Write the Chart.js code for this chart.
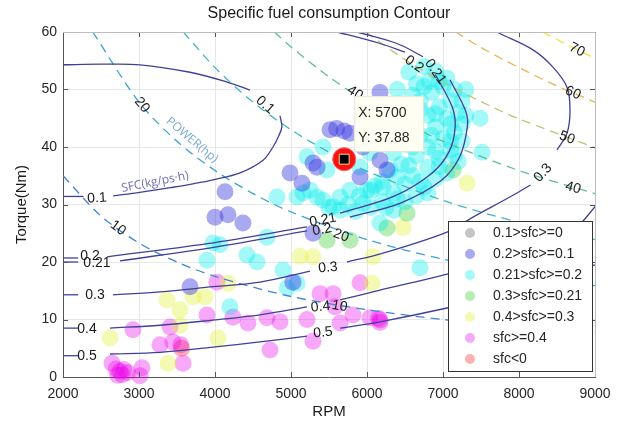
<!DOCTYPE html>
<html>
<head>
<meta charset="utf-8">
<script src="https://cdn.jsdelivr.net/npm/chart.js@4.4.1/dist/chart.umd.min.js"></script>
<style>
  html, body { margin: 0; padding: 0; background: #fff; }
  #wrap { width: 624px; height: 432px; }
</style>
</head>
<body>
<div id="wrap"><canvas id="chart" width="624" height="432"></canvas></div>
<script>
// ---- axis ranges / ticks ----
const rpmRange = [2000, 9000];
const torqueRange = [0, 60];

// ---- scatter groups (rpm, torque) ----
const legendNames = ['0.1>sfc>=0', '0.2>sfc>=0.1', '0.21>sfc>=0.2', '0.3>sfc>=0.21', '0.4>sfc>=0.3', 'sfc>=0.4', 'sfc<0'];

const grayPts = [];
const bluePts = [
  [3671, 15.7], [4000, 27.8], [4132, 32.2], [4171, 28.2], [4368, 26.8], [4987, 35.5], [5145, 33.7],
  [5342, 36.5], [5290, 37.2], [5026, 16.5], [5290, 25.0], [5513, 43.0], [5600, 43.2], [5700, 42.8],
  [5776, 42.4], [5947, 40.0], [5908, 34.8], [6171, 49.5], [6171, 37.7], [6263, 36.0]
];
const cyanPts = [
  [3895, 20.3], [3974, 23.3], [4066, 23.0], [4421, 21.2], [4553, 20.0], [4684, 24.3], [4895, 18.6],
  [5079, 16.3], [4950, 15.5], [4197, 12.2], [4816, 31.3], [5079, 31.3], [5158, 32.0], [5342, 31.3],
  [5421, 30.8], [5553, 29.6], [5645, 31.3], [5776, 32.5], [6000, 32.5], [6211, 33.0], [6171, 26.8],
  [6697, 19.0], [7487, 45.0], [7513, 39.1], [5210, 38.3], [5421, 40.0], [5474, 36.0], [5908, 36.5],
  [6039, 39.0], [5250, 32.5],
  // dense band along the 0.2 / 0.21 arc
  [6750, 54], [6900, 53.2], [7050, 52], [6820, 51.5], [7000, 50.5], [7150, 50], [6650, 51],
  [6850, 49.5], [7100, 48], [7250, 48], [6700, 48], [6950, 47], [7200, 46], [6550, 47],
  [6800, 45.5], [7050, 45], [7250, 44], [6600, 44], [6900, 43.5], [7150, 42.5], [6450, 43],
  [6700, 42], [7000, 41.5], [7250, 41], [6500, 40.5], [6800, 40], [7100, 39.5], [6350, 39],
  [6650, 38.5], [6950, 38], [7200, 37.5], [6450, 37], [6800, 36.5], [7050, 35.5], [6300, 36],
  [6600, 35], [6900, 34.5], [6200, 34], [6500, 33.5], [6750, 33], [6050, 32.5], [6350, 32],
  [6650, 31.5], [5900, 31.5], [6200, 30.5], [6500, 30.5], [5750, 30], [6050, 29.5], [5500, 29.5],
  [5850, 28.8], [6350, 29], [6400, 47.5], [6400, 50], [6550, 53], [7300, 45.5], [7300, 50],
  [6600, 49], [6750, 50.5], [6950, 51.5], [6700, 46.5], [6900, 45.8], [7100, 44], [6550, 42],
  [6850, 42], [7100, 41], [6600, 40], [6900, 39.2], [7150, 38.6], [6550, 36.8], [6950, 36.6],
  [6400, 34.8], [6700, 34], [6100, 33.2], [6400, 31], [6800, 32], [5650, 29], [5950, 30.2], [6250, 29.5]
];
const greenPts = [
  [6526, 28.5], [6263, 25.9], [5474, 23.8], [5776, 23.8], [7132, 36.0]
];
const yellowPts = [
  [2618, 6.8], [3368, 13.4], [3539, 11.7], [3539, 9.0], [3711, 13.9], [3868, 13.9], [4039, 6.8],
  [3382, 2.4], [4171, 16.3], [5118, 21.0], [5290, 20.9], [6079, 20.9], [6066, 16.3], [6474, 26.0],
  [7316, 33.7]
];
const magentaPts = [
  [2921, 8.2], [2645, 2.4], [2700, 1.4], [2750, 1.0], [2800, 1.3], [2780, 0.4], [2720, 0.3],
  [2850, 0.8], [3039, 1.6], [3013, 0.2], [3408, 8.7], [3276, 5.6], [3447, 6.1], [3579, 2.4],
  [3550, 5.6], [3895, 10.8], [4026, 16.5], [4237, 10.4], [4434, 9.4], [4684, 10.3], [4855, 9.6],
  [4724, 4.7], [5210, 10.0], [5290, 6.2], [5382, 14.5], [5553, 14.5], [5579, 12.2], [5645, 9.4],
  [5816, 10.8], [5908, 16.4], [6039, 10.3], [6171, 9.9], [6150, 10.2], [6171, 9.5]
];
const redPts = [[3560, 5.0]];

// ---- SFC contour lines (kg/ps.h), split where the labels sit ----
const sfc01 = [
  [[2000, 54.3], [2500, 54.4], [3013, 54.3], [3671, 53.0], [4158, 51.3], [4460, 49.9]],
  [[4855, 45.4], [4880, 43.5], [4830, 41.7], [4763, 40.0], [4632, 37.7], [4329, 35.5], [3974, 34.3],
   [3710, 33.6], [3447, 33.0], [3013, 32.1], [2660, 31.5]],
  [[2000, 31.4], [2270, 31.4]]
];
const sfc02 = [
  [[5300, 61], [5605, 60], [6171, 58], [6500, 56.5]],
  [[6900, 52.6], [7120, 47], [7160, 43.5], [7080, 39.2], [6850, 35.4], [6350, 31.4], [5645, 28.5]],
  [[5210, 26.1], [3900, 23.2], [2580, 20.9]],
  [[2000, 20.7], [2200, 20.7]]
];
const sfc021 = [
  [[5600, 61], [5868, 60], [6395, 58], [6737, 55.7]],
  [[7092, 51.7], [7300, 46.2], [7320, 43.5], [7220, 38.3], [6980, 34.2], [6450, 30.3], [5776, 27.8]],
  [[5210, 25.4], [4000, 22.6], [2750, 20.2]],
  [[2000, 20.0], [2200, 20.0]]
];
const sfc03 = [
  [[7600, 61], [7710, 60], [8184, 56.9], [8447, 53.9], [8632, 50.4], [8671, 46.4], [8632, 42.4], [8500, 39.5]],
  [[8150, 33.4], [7921, 31.6], [7395, 27.8], [7053, 25.2], [6200, 21.5], [5737, 20.0]],
  [[5250, 18.4], [4592, 16.5], [3974, 15.7], [3276, 14.8], [2658, 14.3]],
  [[2000, 14.3], [2200, 14.3]]
];
const sfc04 = [
  [[9100, 31.5], [9000, 29.6], [8710, 25.6], [8000, 21.5], [7053, 17.9], [6171, 15.1], [5645, 13.4]],
  [[5210, 12.2], [4592, 10.8], [3974, 9.9], [3276, 9.0], [2618, 8.5]],
  [[2000, 8.5], [2200, 8.5]]
];
const sfc05 = [
  [[9000, 19.5], [8000, 15.0], [7053, 12.0], [6171, 9.6], [5645, 8.5]],
  [[5210, 7.1], [4592, 6.1], [3974, 5.2], [3276, 4.3], [2618, 4.0]],
  [[2000, 3.7], [2200, 3.7]]
];
const sfcLines = [sfc01, sfc02, sfc021, sfc03, sfc04, sfc05];

// ---- power contour lines (hp) ----
const powerLevels = [10, 20, 30, 40, 50, 60, 70];
const power10 = [[2000, 35], [2500, 28], [3000, 23.3], [3500, 20], [4000, 17.5], [5000, 14], [6000, 11.7], [7000, 10], [8000, 8.75], [9000, 7.8]];
const power20 = [[2392, 60], [3000, 47.8], [3500, 41], [4000, 35.9], [4500, 31.9], [5000, 28.7], [6000, 23.9], [7000, 20.5], [8000, 17.9], [9000, 15.9]];
const power30 = [[3583, 60], [4000, 53.8], [4500, 47.8], [5000, 43], [5500, 39.1], [6000, 35.8], [7000, 30.7], [8000, 26.9], [9000, 23.9]];
const power40 = [[4783, 60], [5000, 57.4], [5500, 52.2], [6000, 47.8], [6500, 44.2], [7000, 41], [8000, 35.9], [9000, 31.9]];
const power50 = [[5983, 60], [6500, 55.2], [7000, 51.3], [7500, 47.9], [8000, 44.9], [9000, 39.9]];
const power60 = [[7167, 60], [7500, 57.3], [8000, 53.8], [8500, 50.6], [9000, 47.8]];
const power70 = [[8310, 60], [8600, 58], [9000, 55.4]];
const powerLines = [power10, power20, power30, power40, power50, power60, power70];

// ---- contour labels: [rpm, torque, text] and their angles ----
const sfcLabels = [
  [4660, 47.3, '0.1'], [2447, 31.1, '0.1'],
  [2355, 21.1, '0.2'], [2447, 19.8, '0.21'],
  [5420, 27.3, '0.21'], [5410, 25.6, '0.2'],
  [6620, 54.4, '0.2'], [6900, 53.1, '0.21'],
  [2421, 14.3, '0.3'], [5487, 19.0, '0.3'], [8316, 35.5, '0.3'],
  [2316, 8.3, '0.4'], [5390, 12.2, '0.4'],
  [2316, 3.7, '0.5'], [5421, 7.7, '0.5']
];
const sfcLabelAngles = [41, -4, 0, 0, -10, -10, 35, 55, 0, -6, -48, 0, -6, 0, -6];
const powerLabels = [
  [2724, 25.9, '10'], [5640, 12.3, '10'],
  [3039, 47.3, '20'], [5660, 24.6, '20'],
  [5842, 49.4, '40'],
  [8763, 56.9, '70'], [8710, 49.4, '60'], [8632, 41.6, '50'], [8710, 32.9, '40']
];
const powerLabelAngles = [36, 10, 50, 20, 33, 27, 23, 20, 16];

// data tip
const tipX = [5700];
const tipY = [37.88];

// ---- styles ----
const groupColors = [
  'rgba(90,90,90,0.35)', 'rgba(50,50,225,0.42)', 'rgba(0,235,235,0.36)', 'rgba(70,210,70,0.4)',
  'rgba(225,240,40,0.36)', 'rgba(235,0,235,0.34)', 'rgba(255,50,50,0.38)'
];
const powerColors = ['#3f86d6', '#3ca2d2', '#3fb8c0', '#5fbca0', '#c0c070', '#eab552', '#f2e23a'];
const sfcColor = '#40409a';
const FONT = '"Liberation Sans", Arial, sans-serif';

const toPts = arr => arr.map(p => ({ x: p[0], y: p[1] }));

const datasets = [];
[grayPts, bluePts, cyanPts, greenPts, yellowPts, magentaPts, redPts].forEach((pts, i) => {
  datasets.push({
    label: legendNames[i],
    data: toPts(pts),
    backgroundColor: groupColors[i],
    borderWidth: 0,
    pointRadius: 8.5,
    pointHoverRadius: 8.5,
    clip: false,
    order: 5
  });
});
powerLines.forEach((pts, i) => {
  datasets.push({
    data: toPts(pts), showLine: true, pointRadius: 0,
    borderColor: powerColors[i], borderWidth: 1.3, borderDash: [9, 6],
    tension: 0.3, order: 3
  });
});
sfcLines.forEach(segs => segs.forEach(pts => {
  datasets.push({
    data: toPts(pts), showLine: true, pointRadius: 0,
    borderColor: sfcColor, borderWidth: 1.3, tension: 0.35, order: 2
  });
}));
// data tip marker
datasets.push({
  data: toPts(tipX.map((v, i) => [v, tipY[i]])),
  pointStyle: 'rect', pointRadius: 7, backgroundColor: '#000', borderColor: '#ffd27f', borderWidth: 1, order: 0
});
datasets.push({
  data: toPts(tipX.map((v, i) => [v, tipY[i]])),
  pointRadius: 11.5, backgroundColor: '#f41414', borderColor: '#ff6060', borderWidth: 1, order: 1
});

function rotText(ctx, text, x, y, angle) {
  ctx.save();
  ctx.translate(x, y);
  ctx.rotate(angle * Math.PI / 180);
  ctx.fillText(text, 0, 0);
  ctx.restore();
}

const overlay = {
  id: 'overlay',
  afterDatasetsDraw(chart) {
    const { ctx, chartArea: a, scales: { x, y } } = chart;
    ctx.save();
    // inward tick marks + box
    ctx.strokeStyle = '#555';
    ctx.lineWidth = 1;
    ctx.beginPath();
    for (let v = rpmRange[0]; v <= rpmRange[1]; v += 1000) {
      const px = Math.round(x.getPixelForValue(v)) + 0.5;
      ctx.moveTo(px, a.bottom); ctx.lineTo(px, a.bottom - 5);
      ctx.moveTo(px, a.top); ctx.lineTo(px, a.top + 5);
    }
    for (let v = torqueRange[0]; v <= torqueRange[1]; v += 10) {
      const py = Math.round(y.getPixelForValue(v)) + 0.5;
      ctx.moveTo(a.left, py); ctx.lineTo(a.left + 5, py);
      ctx.moveTo(a.right, py); ctx.lineTo(a.right - 5, py);
    }
    ctx.stroke();
    ctx.strokeStyle = '#bdbdbd';
    ctx.beginPath();
    ctx.moveTo(a.left, a.top + 0.5); ctx.lineTo(a.right + 0.5, a.top + 0.5); ctx.lineTo(a.right + 0.5, a.bottom);
    ctx.stroke();

    // contour labels
    ctx.font = '14px ' + FONT;
    ctx.fillStyle = '#1a1a1a';
    ctx.textAlign = 'center';
    ctx.textBaseline = 'middle';
    sfcLabels.forEach((l, i) => rotText(ctx, l[2], x.getPixelForValue(l[0]), y.getPixelForValue(l[1]), sfcLabelAngles[i]));
    powerLabels.forEach((l, i) => rotText(ctx, l[2], x.getPixelForValue(l[0]), y.getPixelForValue(l[1]), powerLabelAngles[i]));

    // line names
    ctx.font = '12px "Open Sans", sans-serif';
    ctx.fillStyle = '#79a9d8';
    rotText(ctx, 'POWER(hp)', x.getPixelForValue(3697), y.getPixelForValue(41.2), 40);
    ctx.fillStyle = '#6e6eb4';
    rotText(ctx, 'SFC(kg/ps\u00b7h)', x.getPixelForValue(3211), y.getPixelForValue(33.9), -11);

    // data tip box
    const tx = x.getPixelForValue(tipX[0]);
    const ty = y.getPixelForValue(tipY[0]);
    ctx.fillStyle = '#fefef2';
    ctx.strokeStyle = '#e6e6d8';
    ctx.fillRect(tx + 10, ty - 63, 69, 55);
    ctx.strokeRect(tx + 10.5, ty - 62.5, 69, 55);
    ctx.fillStyle = '#262626';
    ctx.font = '14px ' + FONT;
    ctx.textAlign = 'left';
    ctx.fillText('X: ' + tipX[0], tx + 14, ty - 46);
    ctx.fillText('Y: ' + tipY[0].toFixed(2), tx + 14, ty - 21);

    // legend
    const lx = a.right - 147, ly = a.bottom - 156;
    ctx.fillStyle = '#fff';
    ctx.fillRect(lx, ly, 144, 150);
    ctx.strokeStyle = '#333';
    ctx.lineWidth = 1;
    ctx.strokeRect(lx + 0.5, ly + 0.5, 144, 150);
    legendNames.forEach((name, i) => {
      const ry = ly + 12 + i * 21;
      ctx.fillStyle = groupColors[i];
      ctx.beginPath();
      ctx.arc(lx + 22, ry, 5, 0, Math.PI * 2);
      ctx.fill();
      ctx.fillStyle = '#262626';
      ctx.fillText(name, lx + 45, ry);
    });

    // titles
    ctx.fillStyle = '#1a1a1a';
    ctx.textAlign = 'center';
    ctx.font = '16px ' + FONT;
    ctx.fillText('Specific fuel consumption Contour', (a.left + a.right) / 2, 14);
    ctx.font = '15px ' + FONT;
    ctx.fillText('RPM', (a.left + a.right) / 2, 412);
    rotText(ctx, 'Torque(Nm)', 22, (a.top + a.bottom) / 2, -90);
    ctx.restore();
  }
};

new Chart(document.getElementById('chart').getContext('2d'), {
  type: 'scatter',
  data: { datasets },
  options: {
    responsive: false,
    animation: false,
    events: [],
    layout: { padding: { top: 32, right: 29, left: 0, bottom: 0 } },
    elements: { line: { capBezierPoints: false } },
    plugins: { legend: { display: false }, tooltip: { enabled: false }, title: { display: false } },
    scales: {
      x: {
        min: rpmRange[0], max: rpmRange[1],
        ticks: { stepSize: 1000, color: '#262626', font: { size: 14, family: FONT }, padding: 9, callback: v => String(v) },
        grid: { color: '#e8e8e8', drawTicks: false },
        border: { color: '#555' },
        afterFit: s => { s.height = 55; }
      },
      y: {
        min: torqueRange[0], max: torqueRange[1],
        ticks: { stepSize: 10, color: '#262626', font: { size: 14, family: FONT }, padding: 6, callback: v => String(v) },
        grid: { color: '#e8e8e8', drawTicks: false },
        border: { color: '#555' },
        afterFit: s => { s.width = 63; }
      }
    }
  },
  plugins: [overlay]
});
</script>
</body>
</html>
